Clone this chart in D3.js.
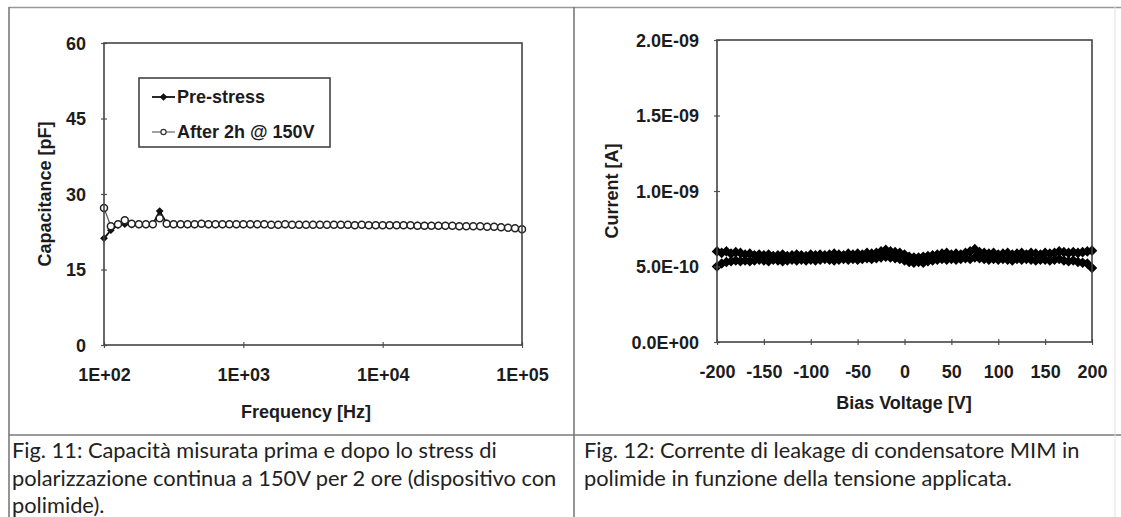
<!DOCTYPE html>
<html>
<head>
<meta charset="utf-8">
<script src="https://cdnjs.cloudflare.com/ajax/libs/d3/7.8.5/d3.min.js"></script>
<style>
  body { margin: 0; background: #fff; }
  svg { display: block; }
</style>
</head>
<body>
<svg></svg>
<script>
// ---- Fig. 11 data: capacitance vs frequency ----
const frequencies = [
  100, 112, 126, 141, 158, 178, 200, 224, 251, 282, 316, 355, 398, 447, 501, 562, 631, 708, 794, 891,
  1000, 1122, 1259, 1413, 1585, 1778, 1995, 2239, 2512, 2818, 3162, 3548, 3981, 4467, 5012, 5623, 6310, 7079, 7943, 8913,
  10000, 11220, 12589, 14125, 15849, 17783, 19953, 22387, 25119, 28184, 31623, 35481, 39811, 44668, 50119, 56234, 63096, 70795, 79433, 89125,
  100000
];
const preStress = [
  21.2, 22.8, 23.8, 24.0, 23.9, 23.9, 23.9, 24.0, 26.6, 24.2, 24.0, 24.0, 23.9, 23.9, 24.0, 23.9, 23.9, 23.9, 24.0, 23.9,
  23.9, 23.9, 23.9, 24.0, 23.9, 23.9, 23.9, 23.9, 23.8, 23.9, 23.9, 23.9, 23.8, 23.9, 23.8, 23.8, 23.9, 23.8, 23.8, 23.8,
  23.8, 23.8, 23.8, 23.8, 23.7, 23.8, 23.7, 23.7, 23.7, 23.7, 23.6, 23.6, 23.6, 23.6, 23.5, 23.5, 23.4, 23.4, 23.3, 23.2,
  23.0
];
const afterStress = [
  27.2, 23.6, 24.0, 24.8, 24.1, 24.0, 24.0, 24.0, 25.2, 24.1, 24.0, 24.0, 24.0, 24.0, 24.1, 24.0, 24.0, 24.0, 24.0, 24.0,
  24.0, 24.0, 24.0, 24.0, 23.9, 23.9, 24.0, 23.9, 23.9, 23.9, 23.9, 23.9, 23.9, 23.9, 23.9, 23.9, 23.8, 23.9, 23.8, 23.8,
  23.8, 23.8, 23.8, 23.8, 23.8, 23.7, 23.7, 23.7, 23.7, 23.7, 23.7, 23.6, 23.6, 23.6, 23.6, 23.5, 23.5, 23.4, 23.3, 23.2,
  23.0
];
const freqTicks = [100, 1000, 10000, 100000];
const freqTickLabels = ["1E+02", "1E+03", "1E+04", "1E+05"];
const capTicks = [0, 15, 30, 45, 60];
const capSeriesNames = ["Pre-stress", "After 2h @ 150V"];

// ---- Fig. 12 data: leakage current vs bias (pA) ----
const biasVoltage = [
  -200, -195, -190, -185, -180, -175, -170, -165, -160, -155,
  -150, -145, -140, -135, -130, -125, -120, -115, -110, -105,
  -100, -95, -90, -85, -80, -75, -70, -65, -60, -55,
  -50, -45, -40, -35, -30, -25, -20, -15, -10, -5,
  0, 5, 10, 15, 20, 25, 30, 35, 40, 45,
  50, 55, 60, 65, 70, 75, 80, 85, 90, 95,
  100, 105, 110, 115, 120, 125, 130, 135, 140, 145,
  150, 155, 160, 165, 170, 175, 180, 185, 190, 195,
  200
];
const currentHigh_pA = [
  600, 590, 600, 585, 595, 590, 580, 585, 575, 580,
  575, 580, 570, 575, 580, 570, 575, 580, 575, 570,
  580, 575, 580, 575, 580, 585, 580, 575, 585, 580,
  585, 580, 590, 585, 590, 600, 610, 600, 595, 590,
  580, 565, 560, 560, 565, 570, 575, 580, 585, 590,
  580, 585, 580, 590, 600, 615, 595, 590, 585, 590,
  580, 585, 590, 580, 585, 590, 580, 590, 585, 580,
  590, 585, 590, 600, 595, 590, 595, 590, 595, 600,
  605
];
const currentLow_pA = [
  500, 520, 530, 535, 540, 535, 540, 535, 540, 545,
  540, 535, 545, 540, 535, 540, 545, 540, 545, 540,
  545, 540, 545, 550, 545, 540, 545, 550, 545, 550,
  545, 550, 555, 550, 555, 560, 565, 560, 555, 550,
  540, 530, 525, 530, 525, 535, 540, 545, 550, 545,
  550, 545, 550, 555, 550, 560, 555, 550, 545, 550,
  545, 550, 545, 540, 550, 545, 550, 545, 540, 545,
  545, 540, 545, 550, 540, 535, 540, 530, 525, 520,
  490
];
const biasTicks = [-200, -150, -100, -50, 0, 50, 100, 150, 200];
const currentTicks_pA = [0, 500, 1000, 1500, 2000];
const currentTickLabels = ["0.0E+00", "5.0E-10", "1.0E-09", "1.5E-09", "2.0E-09"];

const captionLeft = [
  "Fig. 11: Capacità misurata prima e dopo lo stress di",
  "polarizzazione continua a 150V per 2 ore (dispositivo con",
  "polimide)."
];
const captionRight = [
  "Fig. 12: Corrente di leakage di condensatore MIM in",
  "polimide in funzione della tensione applicata."
];

// ---- layout ----
let width = 1121;
let height = 517;
let chartFont = "'Liberation Sans', Arial, sans-serif";
let captionFont = "Lato, 'Open Sans', sans-serif";
let leftBox = { x0: 104, x1: 522, y0: 43, y1: 345 };
let rightBox = { x0: 717, x1: 1092, y0: 40, y1: 342 };

let svg = d3.select('svg');
let xFreq, yCap, xBias, yCur;

const drawCanvas = () => {
  svg.attr('width', width).attr('height', height);
  svg.append('rect').attr('width', width).attr('height', height).attr('fill', '#fff');

  // table grid
  const grid = svg.append('g').attr('stroke', '#7a7a7a').attr('stroke-width', 1.6);
  grid.append('line').attr('x1', 9).attr('x2', width).attr('y1', 7.5).attr('y2', 7.5).attr('stroke', '#999');
  grid.append('line').attr('x1', 9).attr('x2', 9).attr('y1', 7).attr('y2', height);
  grid.append('line').attr('x1', 574).attr('x2', 574).attr('y1', 7).attr('y2', height);
  grid.append('line').attr('x1', 9).attr('x2', width).attr('y1', 435).attr('y2', 435);
  grid.append('line').attr('x1', 1115).attr('x2', 1115).attr('y1', 7).attr('y2', height)
      .attr('stroke', '#e2e2e2').attr('stroke-width', 1);
};

const generateScales = () => {
  xFreq = d3.scaleLog().domain([100, 100000]).range([leftBox.x0, leftBox.x1]);
  yCap = d3.scaleLinear().domain([0, 60]).range([leftBox.y1, leftBox.y0]);
  xBias = d3.scaleLinear().domain([-200, 200]).range([rightBox.x0, rightBox.x1]);
  yCur = d3.scaleLinear().domain([0, 2000]).range([rightBox.y1, rightBox.y0]);
};

const styleAxisText = (g) => {
  g.selectAll('text')
   .attr('font-family', chartFont)
   .attr('font-weight', 'bold')
   .attr('font-size', 18)
   .attr('fill', '#1c1c1c');
};

const drawAxes = (box, xScale, yScale, xTicks, xFormat, yTicks, yFormat) => {
  let xAxis = d3.axisBottom(xScale).tickValues(xTicks).tickFormat(xFormat);
  let yAxis = d3.axisLeft(yScale).tickValues(yTicks).tickFormat(yFormat);

  svg.append('g')
     .attr('transform', 'translate(0,' + box.y1 + ')')
     .call(xAxis)
     .call(g => {
        g.select('.domain').remove();
        g.selectAll('.tick line').attr('y1', -3).attr('y2', 3).attr('stroke', '#555').attr('stroke-width', 1.2);
        g.selectAll('.tick text').attr('y', 30).attr('dy', '0.35em');
        styleAxisText(g);
     });

  svg.append('g')
     .attr('transform', 'translate(' + box.x0 + ',0)')
     .call(yAxis)
     .call(g => {
        g.select('.domain').remove();
        g.selectAll('.tick line').attr('x1', -3).attr('x2', 3).attr('stroke', '#555').attr('stroke-width', 1.2);
        g.selectAll('.tick text').attr('x', -18).attr('dy', '0.35em').attr('text-anchor', 'end');
        styleAxisText(g);
     });

  svg.append('rect')
     .attr('x', box.x0).attr('y', box.y0)
     .attr('width', box.x1 - box.x0).attr('height', box.y1 - box.y0)
     .attr('fill', 'none').attr('stroke', '#444').attr('stroke-width', 1.6);
};

const axisTitle = (text, x, y, rotate) => {
  svg.append('text')
     .attr('transform', 'translate(' + x + ',' + y + ')' + (rotate ? ' rotate(-90)' : ''))
     .attr('text-anchor', 'middle')
     .attr('dy', '0.35em')
     .attr('font-family', chartFont)
     .attr('font-weight', 'bold')
     .attr('font-size', 18)
     .attr('fill', '#1c1c1c')
     .text(text);
};

const diamond = d3.symbol().type(d3.symbolSquare);

const drawCapacitance = () => {
  let pre = frequencies.map((f, i) => ({ f: f, v: preStress[i] }));
  let post = frequencies.map((f, i) => ({ f: f, v: afterStress[i] }));
  let line = d3.line().x(d => xFreq(d.f)).y(d => yCap(d.v));

  svg.append('path').datum(pre)
     .attr('d', line).attr('fill', 'none').attr('stroke', '#111').attr('stroke-width', 1.8);
  svg.selectAll('.pre')
     .data(pre).enter().append('path')
     .attr('class', 'pre')
     .attr('d', diamond.size(30)())
     .attr('transform', d => 'translate(' + xFreq(d.f) + ',' + yCap(d.v) + ') rotate(45)')
     .attr('fill', '#111');

  svg.append('path').datum(post)
     .attr('d', line).attr('fill', 'none').attr('stroke', '#555').attr('stroke-width', 1.2);
  svg.selectAll('.post')
     .data(post).enter().append('circle')
     .attr('class', 'post')
     .attr('cx', d => xFreq(d.f)).attr('cy', d => yCap(d.v)).attr('r', 3.5)
     .attr('fill', '#fff').attr('stroke', '#222').attr('stroke-width', 1.5);

  drawAxes(leftBox, xFreq, yCap, freqTicks, (d, i) => freqTickLabels[i], capTicks, d => d);
  axisTitle('Capacitance [pF]', 45, (leftBox.y0 + leftBox.y1) / 2, true);
  axisTitle('Frequency [Hz]', 306, 412, false);

  // legend
  let lg = svg.append('g');
  lg.append('rect').attr('x', 139).attr('y', 78).attr('width', 191).attr('height', 69)
    .attr('fill', '#fff').attr('stroke', '#444').attr('stroke-width', 1.6);
  let rows = [97, 132];
  capSeriesNames.forEach((name, i) => {
    lg.append('line').attr('x1', 152).attr('x2', 175).attr('y1', rows[i]).attr('y2', rows[i])
      .attr('stroke', i === 0 ? '#111' : '#666').attr('stroke-width', i === 0 ? 1.8 : 1.2);
    if (i === 0) {
      lg.append('path').attr('d', diamond.size(30)())
        .attr('transform', 'translate(163.5,' + rows[i] + ') rotate(45)').attr('fill', '#111');
    } else {
      lg.append('circle').attr('cx', 163.5).attr('cy', rows[i]).attr('r', 2.6)
        .attr('fill', '#fff').attr('stroke', '#333').attr('stroke-width', 1.2);
    }
    lg.append('text').attr('x', 177).attr('y', rows[i]).attr('dy', '0.35em')
      .attr('font-family', chartFont).attr('font-weight', 'bold').attr('font-size', 18)
      .attr('fill', '#1c1c1c').text(name);
  });
};

const drawLeakage = () => {
  let line = d3.line().x(d => xBias(d.v)).y(d => yCur(d.i));
  [currentHigh_pA, currentLow_pA].forEach(series => {
    let pts = biasVoltage.map((v, k) => ({ v: v, i: series[k] }));
    svg.append('path').datum(pts)
       .attr('d', line).attr('fill', 'none').attr('stroke', '#000').attr('stroke-width', 3);
    svg.append('g').selectAll('path')
       .data(pts).enter().append('path')
       .attr('d', diamond.size(56)())
       .attr('transform', d => 'translate(' + xBias(d.v) + ',' + yCur(d.i) + ') rotate(45)')
       .attr('fill', '#000');
  });

  drawAxes(rightBox, xBias, yCur, biasTicks, d => d, currentTicks_pA, (d, i) => currentTickLabels[i]);
  axisTitle('Current [A]', 612, (rightBox.y0 + rightBox.y1) / 2, true);
  axisTitle('Bias Voltage [V]', 904, 403, false);
};

const drawCaptions = () => {
  let probe = svg.append('text').attr('font-family', captionFont).attr('font-size', 18).text(captionLeft[0]);
  let size = 18 * 485 / probe.node().getComputedTextLength();
  probe.remove();
  let baselines = [458, 486, 513];
  [[captionLeft, 12], [captionRight, 584]].forEach(([lines, x]) => {
    lines.forEach((t, i) => {
      svg.append('text').attr('x', x).attr('y', baselines[i])
         .attr('font-family', captionFont).attr('font-size', size)
         .attr('fill', '#222').text(t);
    });
  });
};

drawCanvas();
generateScales();
drawCapacitance();
drawLeakage();
drawCaptions();
</script>
</body>
</html>
